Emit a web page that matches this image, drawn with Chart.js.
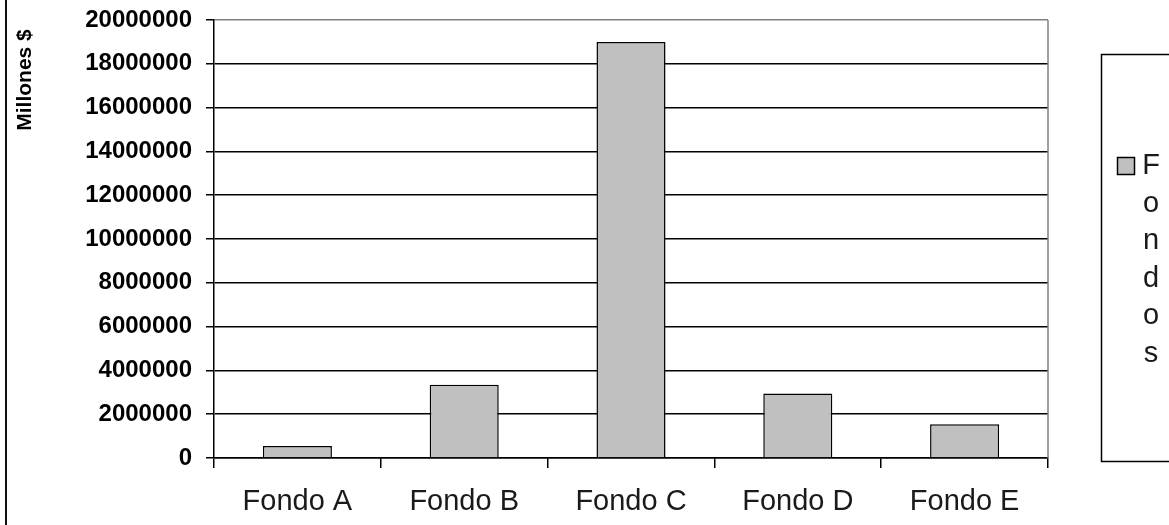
<!DOCTYPE html>
<html>
<head>
<meta charset="utf-8">
<script src="https://cdn.jsdelivr.net/npm/chart.js@4/dist/chart.umd.min.js"></script>
<style>
  html, body { margin: 0; padding: 0; background: #ffffff; }
  canvas { display: block; }
</style>
</head>
<body>
<canvas id="c" width="1169" height="525"></canvas>
<script>
// Fund sizes
const categories = ['Fondo A', 'Fondo B', 'Fondo C', 'Fondo D', 'Fondo E'];
const seriesName = 'Fondos';
const values = [550000, 3350000, 19000000, 2950000, 1540000];
const axisTitle = 'Millones $';
const yMin = 0;
const yMax = 20000000;
const yStep = 2000000;

const FONT = "'Liberation Sans', Arial, sans-serif";
const BAR_FILL = '#c0c0c0';

// Rotated value-axis title
const axisTitlePlugin = {
  id: 'axisTitle',
  afterDraw(chart) {
    const ctx = chart.ctx;
    ctx.save();
    ctx.translate(25, 80);
    ctx.rotate(-Math.PI / 2);
    ctx.font = 'bold 21px ' + FONT;
    ctx.fillStyle = '#000';
    ctx.textAlign = 'center';
    ctx.textBaseline = 'middle';
    ctx.fillText(axisTitle, 0, 0);
    ctx.restore();
  }
};

// Frame pieces: outer left rule and plot-area right edge
const framePlugin = {
  id: 'frame',
  beforeDraw(chart) {
    const ctx = chart.ctx;
    ctx.save();
    ctx.fillStyle = '#fff';
    ctx.fillRect(0, 0, chart.width, chart.height);
    ctx.restore();
  },
  afterDraw(chart) {
    const ctx = chart.ctx;
    const a = chart.chartArea;
    ctx.save();
    ctx.strokeStyle = '#808080';
    ctx.lineWidth = 1.5;
    ctx.beginPath();
    ctx.moveTo(a.right, a.top);
    ctx.lineTo(a.right, a.bottom);
    ctx.stroke();
    ctx.strokeStyle = '#111';
    ctx.lineWidth = 2;
    ctx.beginPath();
    ctx.moveTo(6, 0);
    ctx.lineTo(6, chart.height);
    ctx.stroke();
    ctx.restore();
  }
};

// Legend box with the series name stacked one letter per line
const stackedLegendPlugin = {
  id: 'stackedLegend',
  afterDraw(chart) {
    const ctx = chart.ctx;
    const ds = chart.data.datasets[0];
    ctx.save();
    ctx.strokeStyle = '#000';
    ctx.lineWidth = 1.5;
    ctx.strokeRect(1101.5, 54.5, 120, 407);
    ctx.fillStyle = ds.backgroundColor;
    ctx.fillRect(1117, 157, 18, 18);
    ctx.strokeRect(1117.5, 157.5, 17, 17);
    ctx.font = '29px ' + FONT;
    ctx.fillStyle = '#1a1a1a';
    ctx.textAlign = 'center';
    ctx.textBaseline = 'alphabetic';
    const letters = ds.label.split('');
    letters.forEach((ch, i) => {
      ctx.fillText(ch, 1151, 174 + i * 37.6);
    });
    ctx.restore();
  }
};

new Chart(document.getElementById('c'), {
  type: 'bar',
  data: {
    labels: categories,
    datasets: [{
      label: seriesName,
      data: values,
      backgroundColor: BAR_FILL,
      borderColor: '#000',
      borderWidth: 1.5,
      barPercentage: 0.414,
      categoryPercentage: 1.0
    }]
  },
  options: {
    responsive: false,
    animation: false,
    devicePixelRatio: 1,
    layout: { padding: { top: 20, right: 121, left: 0, bottom: 0 } },
    plugins: {
      legend: { display: false },
      tooltip: { enabled: false },
      title: { display: false }
    },
    scales: {
      x: {
        afterFit(scale) {
          scale.height = 67;
          scale.paddingLeft = 0;
          scale.paddingRight = 0;
        },
        grid: {
          display: true,
          drawOnChartArea: false,
          drawTicks: true,
          tickLength: 10,
          tickColor: '#000',
          lineWidth: 1.5,
          offset: true
        },
        border: { display: true, color: '#000', width: 1.5 },
        ticks: {
          font: { family: FONT, size: 29 },
          color: '#1a1a1a',
          padding: 17,
          maxRotation: 0,
          autoSkip: false
        }
      },
      y: {
        min: yMin,
        max: yMax,
        afterFit(scale) {
          scale.width = 214;
          scale.paddingTop = 0;
          scale.paddingBottom = 0;
        },
        grid: {
          color: (c) => (c.tick && c.tick.value === yMax) ? '#808080' : '#000',
          lineWidth: 1.5,
          tickLength: 8,
          tickColor: '#000'
        },
        border: { display: true, color: '#000', width: 1.5 },
        ticks: {
          stepSize: yStep,
          font: { family: FONT, size: 24, weight: 'bold' },
          color: '#000',
          padding: 14,
          callback: (v) => String(v)
        }
      }
    }
  },
  plugins: [framePlugin, axisTitlePlugin, stackedLegendPlugin]
});
</script>
</body>
</html>
